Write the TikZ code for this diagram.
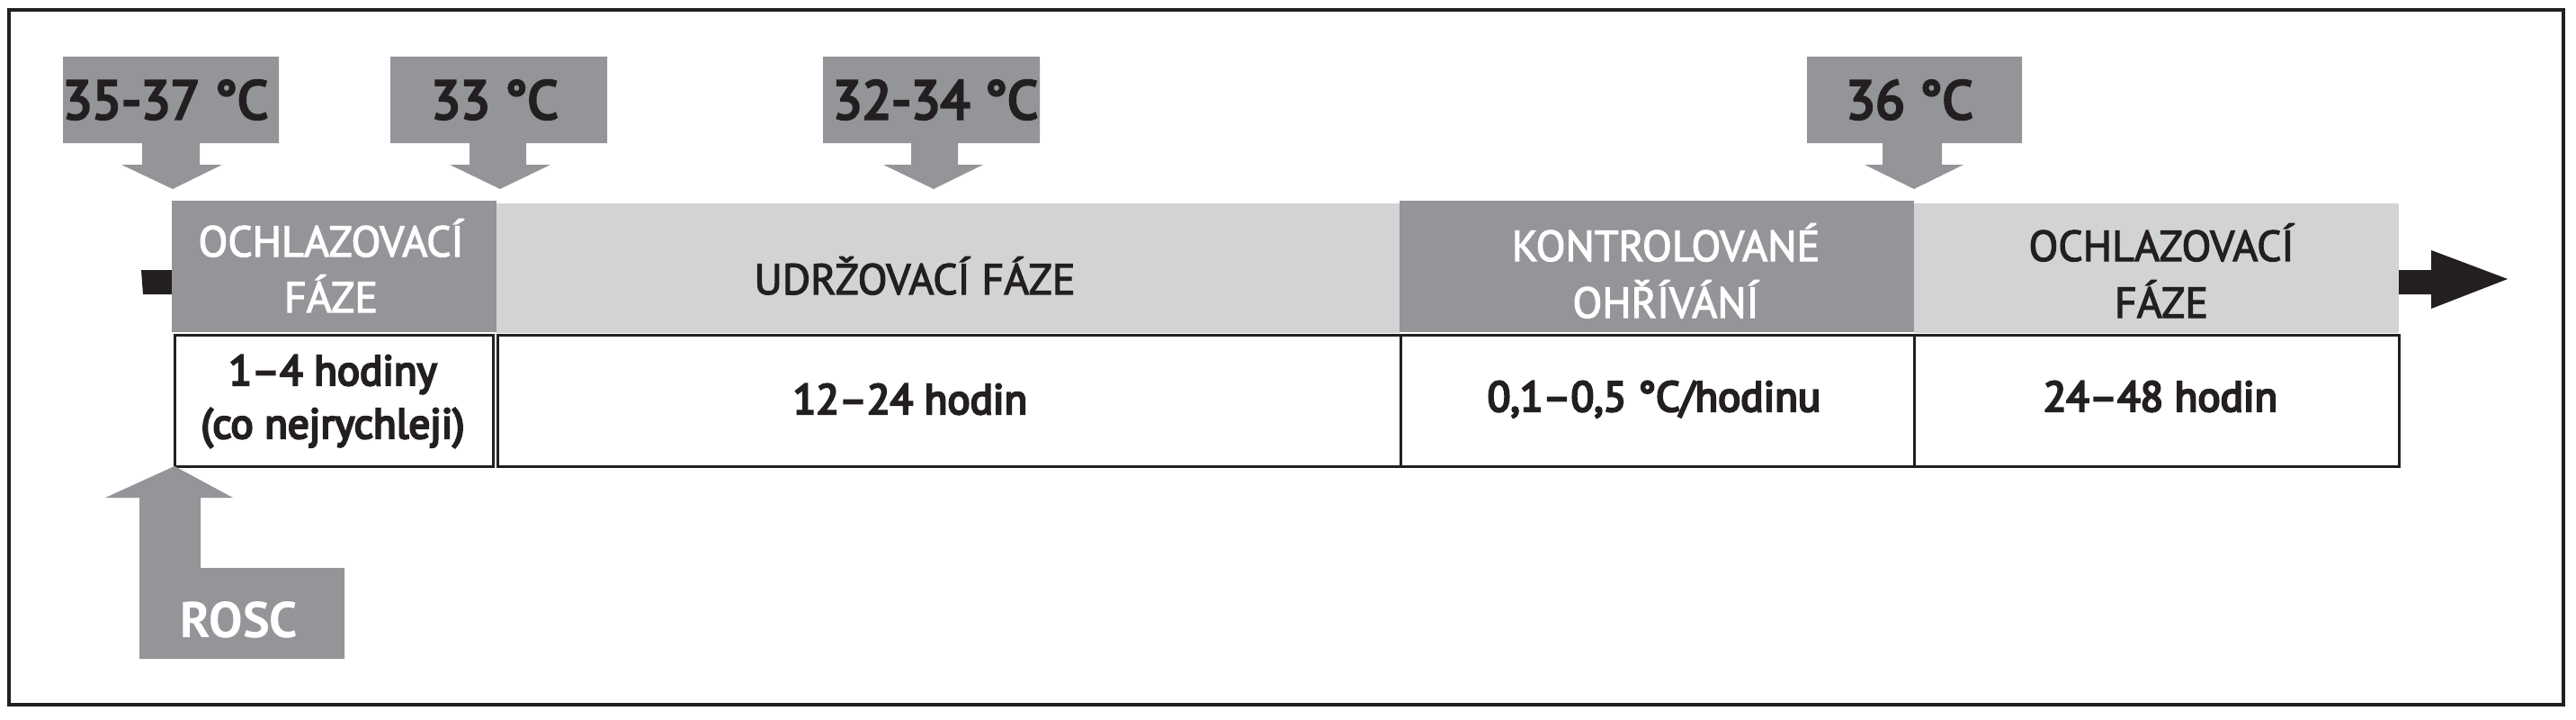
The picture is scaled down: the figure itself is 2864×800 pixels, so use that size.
\documentclass[tikz,border=0pt]{standalone}
\usepackage{fontspec}
\setmainfont{PT Sans}
\newfontfamily\medfont[FakeBold=2.5]{PT Sans}
\newfontfamily\semifont[FakeBold=5]{PT Sans}
\definecolor{dgray}{HTML}{939598}
\definecolor{lgray}{HTML}{D1D3D4}
\definecolor{ink}{HTML}{231F20}
\tikzset{
  phasebox/.style={inner sep=0, outer sep=0, anchor=north west},
  durbox/.style={draw=ink, line width=3pt, fill=white, inner sep=0, outer sep=0, anchor=north west},
  lbl/.style={font=\medfont\fontsize{48}{52}\selectfont, inner sep=0, anchor=base},
  tmp/.style={font=\semifont\fontsize{60}{64}\selectfont, text=ink, inner sep=0, anchor=base},
  dur/.style={font=\semifont\fontsize{47}{50}\selectfont, text=ink, inner sep=0, anchor=base},
  marker/.style={fill=dgray, draw=none},
}
\begin{document}
\begin{tikzpicture}[x=1pt, y=-1pt]
\useasboundingbox (0,0) rectangle (2864,800);
\fill[white] (0,0) rectangle (2864,800);
% outer frame
\draw[ink, line width=3.5pt] (10,11) rectangle (2850,783);

% time axis (black arrow behind the phases)
\fill[ink] (157,300) -- (2703,300) -- (2703,278) -- (2788,310) -- (2703,343) -- (2703,327) -- (159,327) -- cycle;

% phase bars
\node[phasebox, fill=dgray, minimum width=361pt, minimum height=146pt] (p1) at (191,223) {};
\node[phasebox, fill=lgray, minimum width=1004pt, minimum height=144pt] (p2) at (552,226) {};
\node[phasebox, fill=dgray, minimum width=572pt, minimum height=146pt] (p3) at (1556,223) {};
\node[phasebox, fill=lgray, minimum width=539pt, minimum height=144pt] (p4) at (2128,226) {};

% duration boxes
\node[durbox, minimum width=354pt, minimum height=146pt] (d1) at (194,372) {};
\node[durbox, minimum width=1004pt, minimum height=146pt] (d2) at (553,372) {};
\node[durbox, minimum width=571pt, minimum height=146pt] (d3) at (1557,372) {};
\node[durbox, minimum width=539pt, minimum height=146pt] (d4) at (2128,372) {};

% phase labels
\node[lbl, text=white] (l1a) at (368,285) {OCHLAZOVACÍ};
\node[lbl, text=white] (l1b) at (368,347) {FÁZE};
\node[lbl, text=ink] (l2) at (1017,327) {UDRŽOVACÍ FÁZE};
\node[lbl, text=white] (l3a) at (1852,290) {KONTROLOVANÉ};
\node[lbl, text=white] (l3b) at (1852,353) {OHŘÍVÁNÍ};
\node[lbl, text=ink] (l4a) at (2403,290) {OCHLAZOVACÍ};
\node[lbl, text=ink] (l4b) at (2403,353) {FÁZE};

% durations
\node[dur] (t1a) at (370,428) {1–4 hodiny};
\node[dur] (t1b) at (370,487) {(co nejrychleji)};
\node[dur] (t2) at (1012,460) {12–24 hodin};
\node[dur] (t3) at (1839,457) {0,1–0,5 °C/hodinu};
\node[dur] (t4) at (2402,457) {24–48 hodin};

% temperature markers
\fill[marker] (70,63) -- (310,63) -- (310,159) -- (222,159) -- (222,183) -- (247,183) -- (192,210) -- (135,183) -- (158,183) -- (158,159) -- (70,159) -- cycle;
\node[tmp] (m1) at (184,132) {35-37 °C};
\fill[marker] (434,63) -- (675,63) -- (675,159) -- (585,159) -- (585,183) -- (612,183) -- (556,210) -- (500,183) -- (522,183) -- (522,159) -- (434,159) -- cycle;
\node[tmp] (m2) at (550,132) {33 °C};
\fill[marker] (915,63) -- (1156,63) -- (1156,159) -- (1065,159) -- (1065,183) -- (1093,183) -- (1038,210) -- (982,183) -- (1013,183) -- (1013,159) -- (915,159) -- cycle;
\node[tmp] (m3) at (1040,132) {32-34 °C};
\fill[marker] (2009,63) -- (2248,63) -- (2248,159) -- (2159,159) -- (2159,183) -- (2183,183) -- (2128,210) -- (2073,183) -- (2093,183) -- (2093,159) -- (2009,159) -- cycle;
\node[tmp] (m4) at (2123,132) {36 °C};

% ROSC marker
\fill[marker] (194,518) -- (259,553) -- (223,553) -- (223,631) -- (383,631) -- (383,732) -- (155,732) -- (155,553) -- (117,553) -- cycle;
\node[font=\fontsize{56}{60}\selectfont\bfseries, text=white, inner sep=0, anchor=base] (rosc) at (266,708) {ROSC};
\end{tikzpicture}
\end{document}
